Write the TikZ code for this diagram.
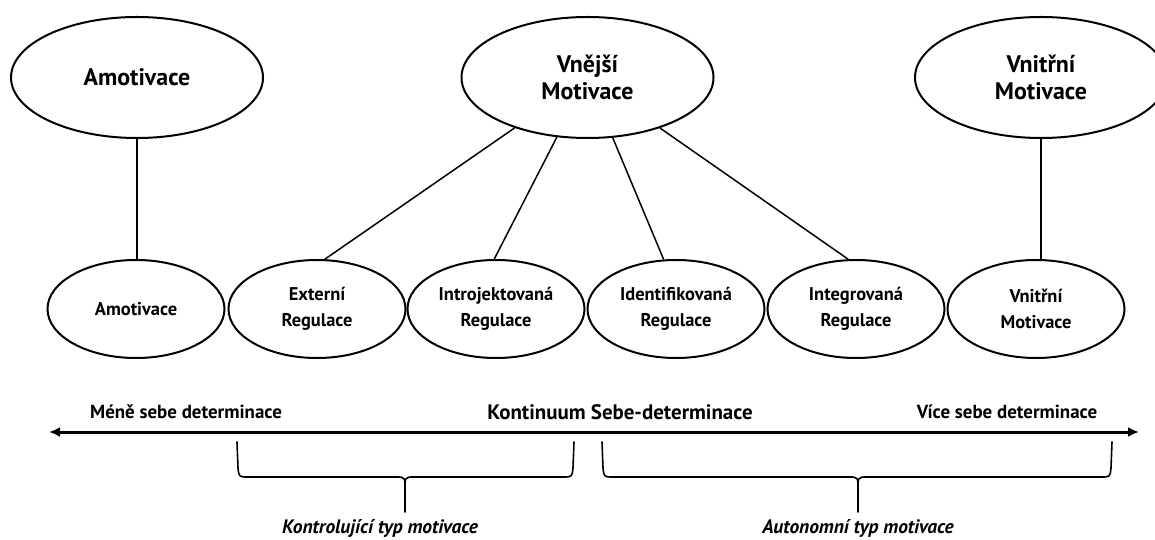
\documentclass[tikz,border=0pt]{standalone}
\usepackage{fontspec}
\setmainfont{PT Sans}
\usetikzlibrary{shapes.geometric,arrows.meta}
\begin{document}
\begin{tikzpicture}[x=1bp,y=-1bp,
  bigell/.style={ellipse,draw,line width=2bp,minimum width=252bp,minimum height=121bp,inner sep=0pt,align=center,font=\fontsize{24}{27}\selectfont\bfseries},
  smell/.style={ellipse,draw,line width=2bp,minimum width=177bp,minimum height=98bp,inner sep=0pt,align=center,font=\fontsize{18.5}{26}\selectfont\bfseries},
  link/.style={line width=1.5bp},
  axlbl/.style={inner sep=0pt,anchor=base,font=\fontsize{19}{22}\selectfont\bfseries},
  axtitle/.style={inner sep=0pt,anchor=base,font=\fontsize{21}{24}\selectfont\bfseries},
  typlbl/.style={inner sep=0pt,anchor=base,font=\fontsize{19.5}{22}\selectfont\bfseries\itshape},
  brace/.style={line width=1.6bp,line cap=round,line join=round},
  axis/.style={line width=3bp,{Latex[length=11bp,width=10bp]}-{Latex[length=11bp,width=10bp]}}
]
\useasboundingbox (0,0) rectangle (1155,540);
\clip (0,0) rectangle (1155,540);

% top ellipses
\node[bigell] (amotop) at (137,77.5) {Amotivace};
\node[bigell] (vnetop) at (587.5,77.5) {Vnější\\Motivace};
\node[bigell] (vnitop) at (1041,77.5) {Vnitřní\\Motivace};

% bottom ellipses
\node[smell] (amobot) at (136,309) {Amotivace};
\node[smell] (ext) at (317,309) {Externí\\Regulace};
\node[smell] (intro) at (496,309) {Introjektovaná\\Regulace};
\node[smell] (ident) at (676,309) {Identifikovaná\\Regulace};
\node[smell] (integ) at (856,309) {Integrovaná\\Regulace};
\node[smell] (vnibot) at (1036,309) {Vnitřní\\Motivace};

% connectors
\draw[link] (amotop.south) -- (amotop.south |- amobot.north);
\draw[link] (vnitop.south) -- (vnitop.south |- vnibot.north);
\draw[link] (vnetop) -- (ext.81);
\draw[link] (vnetop) -- (intro.92);
\draw[link] (vnetop) -- (ident.104);
\draw[link] (vnetop) -- (integ.99);

% axis
\coordinate (axL) at (49,432);
\coordinate (axR) at (1139,432);
\draw[axis] (axL) -- (axR);
\node[axlbl] (mene) at (186,418) {Méně sebe determinace};
\node[axtitle] (kont) at (620,419) {Kontinuum Sebe-determinace};
\node[axlbl] (vice) at (1007,418) {Více sebe determinace};

% braces
\draw[brace] (237,442) -- (238,468) .. controls (239,477) .. (248,477) -- (396,477) .. controls (405,477) .. (405,490) -- (405,512);
\draw[brace] (574,442) -- (573,468) .. controls (572,477) .. (563,477) -- (414,477) .. controls (405,477) .. (405,490);
\draw[brace] (602,442) -- (603,468) .. controls (604,477) .. (613,477) -- (849,477) .. controls (858,477) .. (858,490) -- (858,512);
\draw[brace] (1112,442) -- (1111,468) .. controls (1110,477) .. (1101,477) -- (867,477) .. controls (858,477) .. (858,490);

\node[typlbl] (kontr) at (380,533) {Kontrolující typ motivace};
\node[typlbl] (auto) at (858,533) {Autonomní typ motivace};
\end{tikzpicture}
\end{document}
